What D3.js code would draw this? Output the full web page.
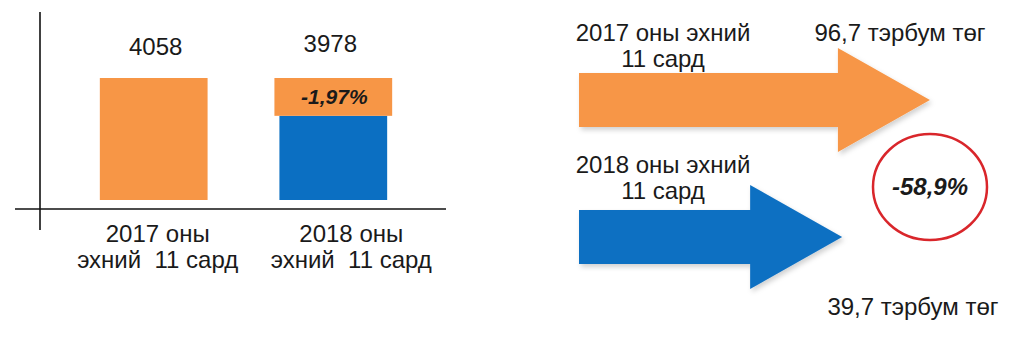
<!DOCTYPE html>
<html>
<head>
<meta charset="utf-8">
<script src="https://cdn.jsdelivr.net/npm/d3@7"></script>
<style>
  html, body { margin: 0; padding: 0; background: #fff; }
  svg { display: block; }
  text { font-family: "Liberation Sans", Arial, sans-serif; fill: #1a1a1a; white-space: pre; }
</style>
</head>
<body>
<svg id="chart" width="1024" height="337"></svg>
<script>
// ---- data ----
const categories = ["2017", "2018"];
const categoryLine1 = ["2017 оны", "2018 оны"];
const categoryLine2 = ["эхний  11 сард", "эхний  11 сард"];
const barValues = [4058, 3978];
const barChangeLabel = "-1,97%";

const arrowPeriods = ["2017 оны эхний", "2018 оны эхний"];
const arrowPeriods2 = ["11 сард", "11 сард"];
const arrowValues = [96.7, 39.7];
const arrowValueLabels = ["96,7 тэрбум төг", "39,7 тэрбум төг"];
const arrowChangeLabel = "-58,9%";

// ---- styles ----
const ORANGE = "#F79646";
const BLUE = "#0B6FC2";
const FS = 24;

const svg = d3.select("#chart");

// ---- left bar chart ----
const x = d3.scaleBand().domain(categories).range([28, 459]).padding(0.4);
const y = d3.scaleLinear().domain([3800, 4058]).range([200, 78]);

// axes lines
svg.append("line").attr("x1", 40).attr("x2", 40).attr("y1", 12).attr("y2", 230)
  .attr("stroke", "#111").attr("stroke-width", 1.6);
svg.append("line").attr("x1", 15).attr("x2", 446).attr("y1", 209).attr("y2", 209)
  .attr("stroke", "#111").attr("stroke-width", 1.6);

// 2017 bar (orange)
svg.append("rect")
  .attr("x", x(categories[0])).attr("width", x.bandwidth())
  .attr("y", y(barValues[0])).attr("height", y.range()[0] - y(barValues[0]))
  .attr("fill", ORANGE);

// 2018 bar: blue up to its value, orange segment showing the decline from 2017 level
svg.append("rect")
  .attr("x", x(categories[1])).attr("width", x.bandwidth())
  .attr("y", y(barValues[1])).attr("height", y.range()[0] - y(barValues[1]))
  .attr("fill", BLUE);
svg.append("rect")
  .attr("x", x(categories[1]) - 5).attr("width", x.bandwidth() + 10)
  .attr("y", y(barValues[0])).attr("height", y(barValues[1]) - y(barValues[0]))
  .attr("fill", ORANGE);
svg.append("text")
  .attr("x", x(categories[1]) + x.bandwidth() / 2 + 1)
  .attr("y", (y(barValues[0]) + y(barValues[1])) / 2 + 7)
  .attr("text-anchor", "middle")
  .attr("font-size", 21).attr("font-weight", "bold").attr("font-style", "italic")
  .text(barChangeLabel);

// value labels
const valueDx = [2, -3];
svg.selectAll(".vlab").data(barValues).join("text")
  .attr("class", "vlab")
  .attr("x", (d, i) => x(categories[i]) + x.bandwidth() / 2 + valueDx[i])
  .attr("y", (d, i) => i === 0 ? 55 : 52)
  .attr("text-anchor", "middle").attr("font-size", FS)
  .text(d => d);

// category labels
const catDx = [4, 18];
categories.forEach((c, i) => {
  const cx = x(c) + x.bandwidth() / 2 + catDx[i];
  svg.append("text").attr("x", cx).attr("y", 242).attr("text-anchor", "middle")
    .attr("font-size", FS).text(categoryLine1[i]);
  svg.append("text").attr("x", cx).attr("y", 268).attr("text-anchor", "middle")
    .attr("font-size", FS).text(categoryLine2[i]);
});

// ---- right arrows ----
const tip = d3.scaleLinear().domain([0, 100]).range([781, 935]);
const arrowStart = 579;
const arrowCY = [100, 237];
const shaftH = 54, headH = 104, headL = 92;
const arrowColors = [ORANGE, BLUE];

const defs = svg.append("defs");
const f = defs.append("filter").attr("id", "sh").attr("x", "-10%").attr("y", "-10%")
  .attr("width", "130%").attr("height", "130%");
f.append("feDropShadow").attr("dx", 2).attr("dy", 3).attr("stdDeviation", 2.5)
  .attr("flood-color", "#000").attr("flood-opacity", 0.18);

arrowValues.forEach((v, i) => {
  const tx = tip(v), cy = arrowCY[i];
  const hx = tx - headL;
  const pts = [
    [arrowStart, cy - shaftH / 2], [hx, cy - shaftH / 2], [hx, cy - headH / 2],
    [tx, cy], [hx, cy + headH / 2], [hx, cy + shaftH / 2], [arrowStart, cy + shaftH / 2]
  ];
  svg.append("path").attr("d", d3.line()(pts) + "Z")
    .attr("fill", arrowColors[i]).attr("filter", "url(#sh)");
});

// arrow texts
const periodY = [[41, 67], [173, 199]];
arrowPeriods.forEach((p, i) => {
  svg.append("text").attr("x", 663).attr("y", periodY[i][0]).attr("text-anchor", "middle")
    .attr("font-size", FS).text(p);
  svg.append("text").attr("x", 663).attr("y", periodY[i][1]).attr("text-anchor", "middle")
    .attr("font-size", FS).text(arrowPeriods2[i]);
});
const valLabPos = [[900, 41], [913, 315]];
arrowValueLabels.forEach((t, i) => {
  svg.append("text").attr("x", valLabPos[i][0]).attr("y", valLabPos[i][1])
    .attr("text-anchor", "middle").attr("font-size", FS).text(t);
});

// red circle with change
svg.append("ellipse").attr("cx", 930).attr("cy", 187).attr("rx", 57).attr("ry", 53)
  .attr("fill", "none").attr("stroke", "#D9262B").attr("stroke-width", 2.5);
svg.append("text").attr("x", 930).attr("y", 195).attr("text-anchor", "middle")
  .attr("font-size", 24).attr("font-weight", "bold").attr("font-style", "italic")
  .text(arrowChangeLabel);
</script>
</body>
</html>
